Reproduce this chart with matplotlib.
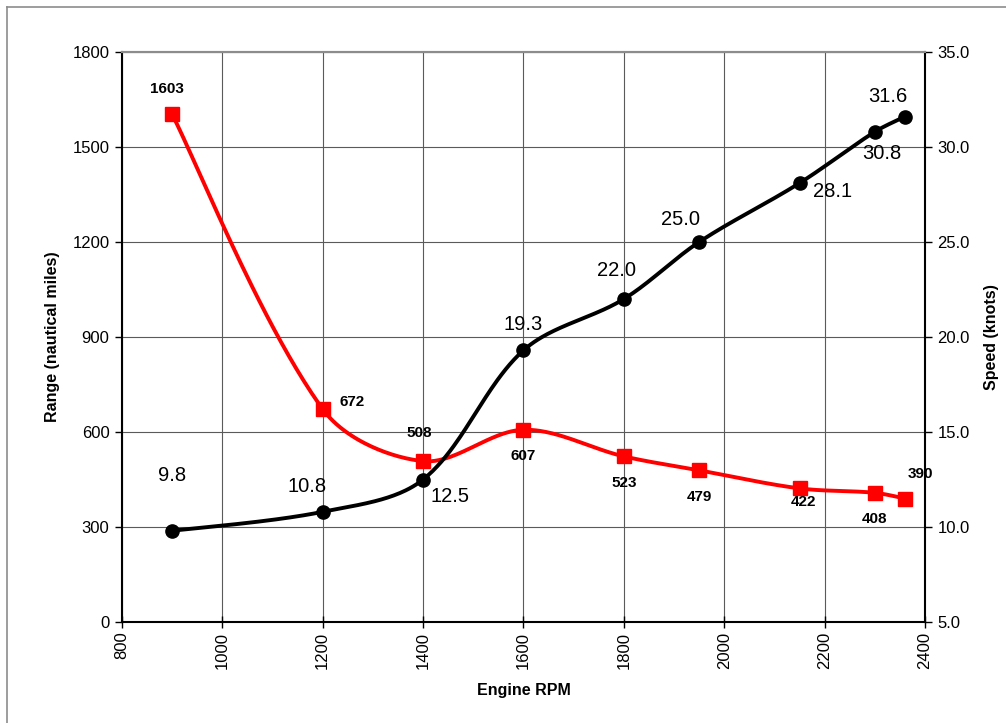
import numpy as np
import matplotlib
matplotlib.use("Agg")
import matplotlib.pyplot as plt
from matplotlib.lines import Line2D

plt.rcParams['font.family'] = ['Liberation Sans', 'DejaVu Sans']

rpm = [900, 1200, 1400, 1600, 1800, 1950, 2150, 2300, 2360]
range_nm = [1603, 672, 508, 607, 523, 479, 422, 408, 390]
speed_kn = [9.8, 10.8, 12.5, 19.3, 22.0, 25.0, 28.1, 30.8, 31.6]

range_labels = ['1603', '672', '508', '607', '523', '479', '422', '408', '390']
speed_labels = ['9.8', '10.8', '12.5', '19.3', '22.0', '25.0', '28.1', '30.8', '31.6']

x_ticks = [800, 1000, 1200, 1400, 1600, 1800, 2000, 2200, 2400]
y1_ticks = [0, 300, 600, 900, 1200, 1500, 1800]
y2_ticks = [5.0, 10.0, 15.0, 20.0, 25.0, 30.0, 35.0]

# label offsets in pixels (dx, dy up)
range_off = [(-5, 25), (29, 7), (-4, 28), (0, -26), (0, -27), (0, -27), (4, -14), (0, -26), (16, 25)]
speed_off = [(0, 55), (-16, 25), (27, -17), (0, 26), (-7, 29), (-19, 23), (33, -8), (7, -22), (-17, 20)]


def smooth(xs, ys, xr, yr, n=50):
    # Bezier smoothing with chord-weighted tangent arms, in pixel-like space
    sx = 803.0 / (xr[1] - xr[0])
    sy = 570.0 / (yr[1] - yr[0])
    P = np.column_stack([(np.array(xs) - xr[0]) * sx, (np.array(ys) - yr[0]) * sy])
    m = len(P)
    d = np.linalg.norm(np.diff(P, axis=0), axis=1)
    out = []
    for i in range(m - 1):
        p1, p2 = P[i], P[i + 1]
        if i == 0:
            c1 = p1 + (p2 - p1) / 6.0
        else:
            T = P[i + 1] - P[i - 1]
            c1 = p1 + T * d[i] / (d[i - 1] + d[i]) / 3.0
        if i + 2 >= m:
            c2 = p2 - (p2 - p1) / 6.0
        else:
            T = P[i + 2] - P[i]
            c2 = p2 - T * d[i] / (d[i] + d[i + 1]) / 3.0
        t = np.linspace(0, 1, n)[:, None]
        seg = (1 - t) ** 3 * p1 + 3 * (1 - t) ** 2 * t * c1 + 3 * (1 - t) * t ** 2 * c2 + t ** 3 * p2
        out.append(seg if i == 0 else seg[1:])
    S = np.vstack(out)
    return S[:, 0] / sx + xr[0], S[:, 1] / sy + yr[0]


W, H = 1006, 723
fig = plt.figure(figsize=(W / 100, H / 100), dpi=100)
fig.add_artist(Line2D([7 / W, 7 / W], [0, 1 - 7 / H], transform=fig.transFigure, color='#8c8c8c', lw=1.2))
fig.add_artist(Line2D([7 / W, 1], [1 - 7 / H, 1 - 7 / H], transform=fig.transFigure, color='#8c8c8c', lw=1.2))

ax = fig.add_axes([122 / W, 1 - 622 / H, 803 / W, 570 / H])
ax2 = ax.twinx()

ax.set_xlim(800, 2400)
ax.set_ylim(0, 1800)
ax2.set_ylim(5, 35)

ax.set_xticks(x_ticks)
ax.set_xticklabels([str(v) for v in x_ticks], rotation=90, fontsize=12)
ax.set_yticks(y1_ticks)
ax.set_yticklabels([str(v) for v in y1_ticks], fontsize=12)
ax2.set_yticks(y2_ticks)
ax2.set_yticklabels([f"{v:.1f}" for v in y2_ticks], fontsize=12)

ax.grid(True, color='#5a5a5a', lw=0.8)
ax.set_axisbelow(True)

for s in ['left', 'bottom']:
    ax.spines[s].set_color('black')
    ax.spines[s].set_linewidth(1.5)
for a in (ax, ax2):
    a.spines['top'].set_color('#8c8c8c')
    a.spines['top'].set_linewidth(1.5)
ax2.spines['right'].set_color('black')
ax2.spines['right'].set_linewidth(1.5)
ax.spines['right'].set_visible(False)
ax2.spines['left'].set_visible(False)
ax2.spines['bottom'].set_visible(False)

ax.tick_params(axis='y', direction='out', length=5, width=1, pad=4)
ax.tick_params(axis='x', direction='inout', length=8, width=1, pad=3)
ax2.tick_params(axis='y', direction='out', length=5, width=1, pad=4)

ax.set_xlabel('Engine RPM', fontsize=11.5, fontweight='bold', labelpad=10)
ax.set_ylabel('Range (nautical miles)', fontsize=11.5, fontweight='bold', labelpad=9)
ax2.set_ylabel('Speed (knots)', fontsize=11.5, fontweight='bold', labelpad=10)

# Range series
rx, ry = smooth(rpm, range_nm, (800, 2400), (0, 1800))
ax.plot(rx, ry, color='#ff0000', lw=2.8, solid_capstyle='round', zorder=3)
ax.plot(rpm, range_nm, ls='none', marker='s', color='#ff0000', markersize=10, zorder=4)
for xv, yv, lab, off in zip(rpm, range_nm, range_labels, range_off):
    ax.annotate(lab, (xv, yv), xytext=off, textcoords='offset pixels', ha='center', va='center',
                fontsize=11, fontweight='bold', zorder=5)

# Speed series
sx_, sy_ = smooth(rpm, speed_kn, (800, 2400), (5, 35))
ax2.plot(sx_, sy_, color='black', lw=2.8, solid_capstyle='round', zorder=3)
ax2.plot(rpm, speed_kn, ls='none', marker='o', color='black', markersize=9.5, zorder=4)
for xv, yv, lab, off in zip(rpm, speed_kn, speed_labels, speed_off):
    ax2.annotate(lab, (xv, yv), xytext=off, textcoords='offset pixels', ha='center', va='center',
                 fontsize=14.5, zorder=5)

fig.savefig('out.png', dpi=100)
